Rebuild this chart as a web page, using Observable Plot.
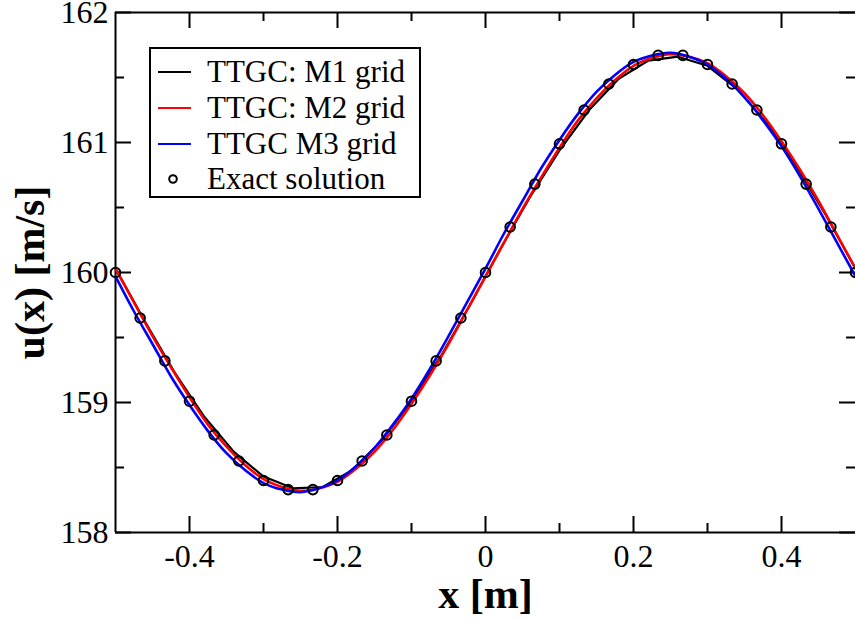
<!DOCTYPE html>
<html><head><meta charset="utf-8">
<script src="https://cdn.jsdelivr.net/npm/d3@7"></script>
<script src="https://cdn.jsdelivr.net/npm/@observablehq/plot@0.6"></script>
<style>
body{margin:0;background:#fff;}
#wrap{position:relative;width:855px;height:620px;overflow:hidden;}
#legend{position:absolute;left:0;top:0;pointer-events:none;}
</style></head><body><div id="wrap"></div>
<script>
// Exact solution (circles)
const xExact = [-0.5,-0.4667,-0.4333,-0.4,-0.3667,-0.3333,-0.3,-0.2667,-0.2333,-0.2,-0.1667,-0.1333,-0.1,-0.0667,-0.0333,0,0.0333,0.0667,0.1,0.1333,0.1667,0.2,0.2333,0.2667,0.3,0.3333,0.3667,0.4,0.4333,0.4667,0.5];
const uExact = [160,159.65,159.32,159.01,158.75,158.55,158.40,158.33,158.33,158.40,158.55,158.75,159.01,159.32,159.65,160,160.35,160.68,160.99,161.25,161.45,161.60,161.67,161.67,161.60,161.45,161.25,160.99,160.68,160.35,160];
// TTGC M1 grid (black, coarse)
const xM1 = [-0.5,-0.46,-0.42,-0.38,-0.34,-0.3,-0.26,-0.22,-0.18,-0.14,-0.1,-0.06,-0.02,0.02,0.06,0.1,0.14,0.18,0.22,0.26,0.3,0.34,0.38,0.42,0.46,0.5];
const uM1 = [160.03,159.62,159.23,158.89,158.62,158.43,158.34,158.35,158.48,158.71,159.01,159.36,159.76,160.18,160.58,160.94,161.25,161.49,161.63,161.66,161.59,161.41,161.15,160.82,160.44,160.03];
// TTGC M2 grid (red) and M3 grid (blue)
const xFine = [-0.5,-0.475,-0.45,-0.425,-0.4,-0.375,-0.35,-0.325,-0.3,-0.275,-0.25,-0.225,-0.2,-0.175,-0.15,-0.125,-0.1,-0.075,-0.05,-0.025,0,0.025,0.05,0.075,0.1,0.125,0.15,0.175,0.2,0.225,0.25,0.275,0.3,0.325,0.35,0.375,0.4,0.425,0.45,0.475,0.5];
const uM2 = [160.03,159.77,159.51,159.27,159.04,158.83,158.66,158.52,158.41,158.35,158.32,158.34,158.39,158.49,158.62,158.79,158.99,159.21,159.45,159.71,159.97,160.23,160.49,160.73,160.96,161.17,161.34,161.48,161.59,161.65,161.68,161.66,161.61,161.51,161.38,161.21,161.01,160.79,160.55,160.29,160.03];
const uM3 = [159.97,159.70,159.45,159.20,158.98,158.78,158.61,158.48,158.38,158.33,158.31,158.34,158.40,158.51,158.65,158.83,159.03,159.26,159.51,159.77,160.03,160.30,160.55,160.80,161.02,161.22,161.39,161.52,161.62,161.67,161.69,161.66,161.60,161.49,161.35,161.17,160.97,160.74,160.49,160.23,159.97];

const xMajor = [-0.4,-0.2,0,0.2,0.4];
const xMinor = [-0.3,-0.1,0.1,0.3];
const yMajor = [158,159,160,161,162];
const yMinor = [158.5,159.5,160.5,161.5];
const legendLabels = ["TTGC: M1 grid","TTGC: M2 grid","TTGC M3 grid","Exact solution"];
const legendColors = ["#000000","#ff0000","#0000ff","#000000"];
const xLabel = "x [m]";
const yLabel = "u(x) [m/s]";

const W = 855, H = 620, mL = 115, mR = 0, mT = 12, mB = 88;
const pw = W - mL - mR, ph = H - mT - mB;
const font = "'Liberation Serif', 'Times New Roman', serif";

const chart = Plot.plot({
  width: W, height: H,
  marginLeft: mL, marginRight: mR, marginTop: mT, marginBottom: mB,
  style: {fontFamily: font, color: "black", background: "white", overflow: "visible"},
  x: {domain: [-0.5, 0.5]},
  y: {domain: [158, 162]},
  marks: [
    // frame (left, bottom, top)
    Plot.ruleX([-0.5], {stroke: "black", strokeWidth: 2}),
    Plot.ruleY([158, 162], {stroke: "black", strokeWidth: 2}),
    // inward ticks on all sides
    Plot.ruleX(xMajor, {insetTop: ph - 16, stroke: "black", strokeWidth: 2}),
    Plot.ruleX(xMinor, {insetTop: ph - 9, stroke: "black", strokeWidth: 2}),
    Plot.ruleX(xMajor, {insetBottom: ph - 16, stroke: "black", strokeWidth: 2}),
    Plot.ruleX(xMinor, {insetBottom: ph - 9, stroke: "black", strokeWidth: 2}),
    Plot.ruleY(yMajor, {insetRight: pw - 16, stroke: "black", strokeWidth: 2}),
    Plot.ruleY(yMinor, {insetRight: pw - 9, stroke: "black", strokeWidth: 2}),
    Plot.ruleY(yMajor, {insetLeft: pw - 16, stroke: "black", strokeWidth: 2}),
    Plot.ruleY(yMinor, {insetLeft: pw - 9, stroke: "black", strokeWidth: 2}),
    // tick labels
    Plot.axisX({ticks: xMajor, tickSize: 0, tickPadding: 12, fontSize: 32, label: null, tickFormat: d => String(d)}),
    Plot.axisY({ticks: yMajor, tickSize: 0, tickPadding: 7, fontSize: 32, label: null, tickFormat: d => String(d)}),
    // axis titles
    Plot.text([xLabel], {text: d => d, frameAnchor: "bottom", lineAnchor: "middle", textAnchor: "middle", dy: 62, fontSize: 42, fontWeight: "bold"}),
    Plot.text([yLabel], {text: d => d, frameAnchor: "left", lineAnchor: "middle", textAnchor: "middle", rotate: -90, dx: -85, fontSize: 42, fontWeight: "bold"}),
    // series
    Plot.line(xM1, {x: xM1, y: uM1, stroke: legendColors[0], strokeWidth: 2.2}),
    Plot.line(xFine, {x: xFine, y: uM2, stroke: legendColors[1], strokeWidth: 2.6, curve: "catmull-rom"}),
    Plot.line(xFine, {x: xFine, y: uM3, stroke: legendColors[2], strokeWidth: 2.6, curve: "catmull-rom"}),
    Plot.dot(xExact, {x: xExact, y: uExact, r: 4.8, stroke: "black", strokeWidth: 2, fill: "none"})
  ]
});

const wrap = document.getElementById("wrap");
wrap.appendChild(chart);

// Legend overlay (inside plot area, upper left)
const ns = "http://www.w3.org/2000/svg";
const leg = document.createElementNS(ns, "svg");
leg.setAttribute("id", "legend");
leg.setAttribute("width", W);
leg.setAttribute("height", H);
const box = {x: 150, y: 48, w: 270, h: 149};
const rect = document.createElementNS(ns, "rect");
rect.setAttribute("x", box.x); rect.setAttribute("y", box.y);
rect.setAttribute("width", box.w); rect.setAttribute("height", box.h);
rect.setAttribute("fill", "white"); rect.setAttribute("stroke", "black"); rect.setAttribute("stroke-width", 2);
leg.appendChild(rect);
const rowY = [72, 108, 144, 179];
legendLabels.forEach((lab, i) => {
  const cy = rowY[i];
  if (i < 3) {
    const l = document.createElementNS(ns, "line");
    l.setAttribute("x1", box.x + 8); l.setAttribute("x2", box.x + 41);
    l.setAttribute("y1", cy); l.setAttribute("y2", cy);
    l.setAttribute("stroke", legendColors[i]); l.setAttribute("stroke-width", 2);
    leg.appendChild(l);
  } else {
    const c = document.createElementNS(ns, "circle");
    c.setAttribute("cx", box.x + 23); c.setAttribute("cy", cy);
    c.setAttribute("r", 3.8); c.setAttribute("fill", "none");
    c.setAttribute("stroke", "black"); c.setAttribute("stroke-width", 2);
    leg.appendChild(c);
  }
  const t = document.createElementNS(ns, "text");
  t.setAttribute("x", box.x + 57); t.setAttribute("y", cy + 10);
  t.setAttribute("font-size", 31);
  t.setAttribute("font-family", "Liberation Serif, Times New Roman, serif");
  t.setAttribute("fill", "black");
  t.textContent = lab;
  leg.appendChild(t);
});
wrap.appendChild(leg);
</script>
</body></html>
